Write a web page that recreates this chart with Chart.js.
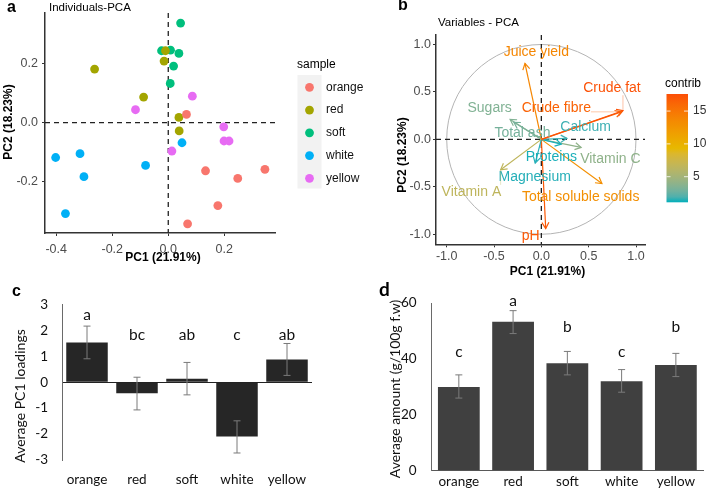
<!DOCTYPE html>
<html>
<head>
<meta charset="utf-8">
<script src="https://cdn.jsdelivr.net/npm/chart.js@4.4.0/dist/chart.umd.min.js"></script>
<style>
  body { margin: 0; background: #fff; width: 706px; height: 499px; position: relative; overflow: hidden; }
  canvas { position: absolute; }
</style>
</head>
<body>
<canvas id="pa" width="380" height="270" style="left:0;top:0"></canvas>
<canvas id="pb" width="356" height="280" style="left:350px;top:0"></canvas>
<canvas id="pc" width="350" height="219" style="left:0;top:280px"></canvas>
<canvas id="pd" width="356" height="219" style="left:350px;top:280px"></canvas>
<script>
// panel a - individuals on PC1 / PC2, one pair of arrays per sample
const samples = ['orange', 'red', 'soft', 'white', 'yellow'];
const sampleColors = ['#F8766D', '#A3A500', '#00BF7D', '#00B0F6', '#E76BF3'];
const orangeX = [0.065, 0.133, 0.248, 0.345, 0.177, 0.069];
const orangeY = [0.028, -0.163, -0.189, -0.158, -0.281, -0.343];
const redX = [-0.263, -0.010, -0.015, -0.088, 0.038, 0.039];
const redY = [0.182, 0.244, 0.209, 0.087, 0.018, -0.028];
const softX = [0.044, -0.024, 0.008, 0.038, 0.019, 0.007];
const softY = [0.338, 0.244, 0.246, 0.235, 0.192, 0.133];
const whiteX = [-0.402, -0.315, -0.301, -0.367, -0.081, 0.049];
const whiteY = [-0.118, -0.105, -0.183, -0.308, -0.145, -0.068];
const yellowX = [-0.117, 0.086, 0.198, 0.199, 0.217, 0.013];
const yellowY = [0.044, 0.090, -0.014, -0.062, -0.062, -0.096];
const indTicksX = [-0.4, -0.2, 0, 0.2];
const indTicksY = [-0.2, 0, 0.2];

// panel b - variables (loadings) and their contribution
const varNames = ['Juice yield', 'Crude fat', 'Crude fibre', 'Sugars', 'Total ash', 'Calcium',
  'Proteins', 'Vitamin C', 'Magnesium', 'Vitamin A', 'Total soluble solids', 'pH'];
const varPC1 = [-0.173, 0.862, 0.845, -0.330, -0.290, 0.270, 0.210, 0.420, -0.065, -0.430, 0.640, 0.046];
const varPC2 = [0.800, 0.302, 0.290, 0.210, 0.180, 0.010, -0.050, -0.085, -0.250, -0.320, -0.465, -0.940];
const varContrib = [13.8, 17.4, 16.4, 3.4, 3.0, 1.6, 1.2, 4.0, 1.3, 6.5, 13.0, 17.0];
const varTicks = [-1, -0.5, 0, 0.5, 1];
const contribTicks = [5, 10, 15];
const contribMin = 1.1, contribMax = 17.6;

// panel c - average PC1 loadings
const pc1Mean = [1.53, -0.43, 0.13, -2.09, 0.87];
const pc1Hi = [2.16, 0.19, 0.76, -1.49, 1.49];
const pc1Lo = [0.90, -1.07, -0.49, -2.73, 0.26];
const pc1Letters = ['a', 'bc', 'ab', 'c', 'ab'];

// panel d - average amount (g/100g f.w)
const amountMean = [30.0, 53.3, 38.5, 32.0, 37.8];
const amountHi = [34.3, 57.3, 42.7, 36.2, 42.0];
const amountLo = [26.0, 49.1, 34.3, 28.1, 33.7];
const amountLetters = ['c', 'a', 'b', 'c', 'b'];

const ggFont = '"Liberation Sans", Arial, sans-serif';
const xlFont = 'Lato, "Open Sans", sans-serif';

// where the repelled labels of panel b sit (data units)
const labelSpots = {
  'Juice yield': [-0.053, 0.919], 'Crude fat': [0.746, 0.539], 'Crude fibre': [0.158, 0.327],
  'Sugars': [-0.546, 0.327], 'Total ash': [-0.20, 0.063], 'Calcium': [0.468, 0.127],
  'Proteins': [0.106, -0.183], 'Vitamin C': [0.729, -0.211], 'Magnesium': [-0.07, -0.394],
  'Vitamin A': [-0.739, -0.553], 'Total soluble solids': [0.415, -0.606], 'pH': [-0.113, -1.018]
};
const linkedLabels = ['Crude fat', 'Crude fibre', 'Vitamin A'];

// colour ramp #00AFBB -> #E7B800 -> #FC4E07, interpolated in CIELAB like ggplot
const gradStops = [[0, 175, 187], [231, 184, 0], [252, 78, 7]];
function toLab(rgb) {
  const lin = rgb.map(v => { v /= 255; return v > 0.04045 ? Math.pow((v + 0.055) / 1.055, 2.4) : v / 12.92; });
  const X = (0.4124 * lin[0] + 0.3576 * lin[1] + 0.1805 * lin[2]) / 0.95047;
  const Y = 0.2126 * lin[0] + 0.7152 * lin[1] + 0.0722 * lin[2];
  const Z = (0.0193 * lin[0] + 0.1192 * lin[1] + 0.9505 * lin[2]) / 1.08883;
  const f = t => t > 0.008856 ? Math.cbrt(t) : 7.787 * t + 16 / 116;
  return [116 * f(Y) - 16, 500 * (f(X) - f(Y)), 200 * (f(Y) - f(Z))];
}
function fromLab(lab) {
  const fy = (lab[0] + 16) / 116, fx = fy + lab[1] / 500, fz = fy - lab[2] / 200;
  const inv = t => t * t * t > 0.008856 ? t * t * t : (t - 16 / 116) / 7.787;
  const X = inv(fx) * 0.95047, Y = inv(fy), Z = inv(fz) * 1.08883;
  const lin = [3.2406 * X - 1.5372 * Y - 0.4986 * Z, -0.9689 * X + 1.8758 * Y + 0.0415 * Z, 0.0557 * X - 0.2040 * Y + 1.0570 * Z];
  return lin.map(v => {
    v = v > 0.0031308 ? 1.055 * Math.pow(v, 1 / 2.4) - 0.055 : 12.92 * v;
    return Math.round(Math.max(0, Math.min(1, v)) * 255);
  });
}
const labStops = gradStops.map(toLab);
function rampAt(t) {
  t = Math.max(0, Math.min(1, t));
  const k = t < 0.5 ? 0 : 1, u = t < 0.5 ? t * 2 : (t - 0.5) * 2;
  const a = labStops[k], b = labStops[k + 1];
  return 'rgb(' + fromLab(a.map((v, i) => v + (b[i] - v) * u)).join(',') + ')';
}
function contribColor(v) { return rampAt((v - contribMin) / (contribMax - contribMin)); }

function txt(ctx, s, x, y, o) {
  ctx.save();
  ctx.font = o.font;
  ctx.fillStyle = o.color || '#000';
  ctx.textAlign = o.align || 'left';
  ctx.textBaseline = 'middle';
  ctx.translate(x, y);
  if (o.rot) ctx.rotate(o.rot);
  ctx.fillText(s, 0, 0);
  ctx.restore();
}
function pinWidth(w) { return s => { s.width = w; }; }
function pinHeight(h) { return s => { s.height = h; }; }
function useTicks(vals) { return s => { s.ticks = vals.map(v => ({ value: v })); }; }

function ggAxis(min, max, vals, pad) {
  return {
    type: 'linear', min: min, max: max,
    afterBuildTicks: useTicks(vals),
    ticks: { font: { family: ggFont, size: 12.5 }, color: '#4d4d4d', padding: pad, callback: v => v.toFixed(1) },
    grid: { display: true, drawOnChartArea: false, tickLength: 3, color: '#333', lineWidth: 1 },
    border: { display: true, color: '#333', width: 1.5 }
  };
}

function dashedZero(chart) {
  const { ctx, chartArea: a, scales: { x, y } } = chart;
  const px = x.getPixelForValue(0), py = y.getPixelForValue(0);
  ctx.save();
  ctx.setLineDash([5, 4]);
  ctx.lineWidth = 1.3;
  ctx.strokeStyle = '#222';
  ctx.beginPath();
  ctx.moveTo(a.left, py); ctx.lineTo(a.right, py);
  ctx.moveTo(px, a.top); ctx.lineTo(px, a.bottom);
  ctx.stroke();
  ctx.restore();
}

const base = {
  responsive: false, animation: false, events: [],
  plugins: { legend: { display: false }, tooltip: { enabled: false } }
};

// ---------- a: Individuals-PCA
const groupX = [orangeX, redX, softX, whiteX, yellowX];
const groupY = [orangeY, redY, softY, whiteY, yellowY];
new Chart(document.getElementById('pa'), {
  type: 'scatter',
  data: {
    datasets: samples.map((s, i) => ({
      label: s,
      data: groupX[i].map((v, j) => ({ x: v, y: groupY[i][j] })),
      backgroundColor: sampleColors[i], borderWidth: 0, pointRadius: 4.4
    }))
  },
  options: {
    ...base,
    layout: { padding: { left: 0, top: 13, right: 105, bottom: 0 } },
    scales: {
      x: { ...ggAxis(-0.44, 0.381, indTicksX, 6), afterFit: pinHeight(37) },
      y: { ...ggAxis(-0.374, 0.372, indTicksY, 4), afterFit: pinWidth(45) }
    }
  },
  plugins: [{
    id: 'panelA',
    beforeDatasetsDraw: dashedZero,
    afterDraw(chart) {
      const ctx = chart.ctx;
      txt(ctx, 'a', 7, 8, { font: 'bold 16px ' + ggFont });
      txt(ctx, 'Individuals-PCA', 49, 8, { font: '11.5px ' + ggFont });
      txt(ctx, 'PC1 (21.91%)', 163, 258, { font: 'bold 12px ' + ggFont, align: 'center' });
      txt(ctx, 'PC2 (18.23%)', 8.5, 122, { font: 'bold 12px ' + ggFont, align: 'center', rot: -Math.PI / 2 });
      // legend
      txt(ctx, 'sample', 297, 65, { font: '12px ' + ggFont });
      ctx.fillStyle = '#F2F2F2';
      ctx.fillRect(297.5, 75, 24, 113.5);
      chart.data.datasets.forEach((d, i) => {
        const yy = 87.3 + i * 22.75;
        ctx.beginPath();
        ctx.arc(309.5, yy, 4.4, 0, Math.PI * 2);
        ctx.fillStyle = d.backgroundColor;
        ctx.fill();
        txt(ctx, d.label, 326, yy, { font: '12px ' + ggFont, color: '#111' });
      });
    }
  }]
});

// ---------- b: Variables - PCA
new Chart(document.getElementById('pb'), {
  type: 'scatter',
  data: {
    datasets: varNames.map((n, i) => ({
      label: n,
      data: [{ x: 0, y: 0 }, { x: varPC1[i], y: varPC2[i] }],
      showLine: true, borderColor: contribColor(varContrib[i]), borderWidth: 1.2, pointRadius: 0
    }))
  },
  options: {
    ...base,
    layout: { padding: { left: 0, top: 35, right: 61, bottom: 0 } },
    scales: {
      x: { ...ggAxis(-1.113, 1.095, varTicks, 2), afterFit: pinHeight(35.7) },
      y: { ...ggAxis(-1.106, 1.1, varTicks, 2), afterFit: pinWidth(86) }
    }
  },
  plugins: [{
    id: 'panelB',
    beforeDatasetsDraw(chart) {
      const { ctx, scales: { x, y } } = chart;
      const cx = x.getPixelForValue(0), cy = y.getPixelForValue(0);
      ctx.save();
      ctx.strokeStyle = '#b4b4b4';
      ctx.lineWidth = 1;
      ctx.beginPath();
      ctx.ellipse(cx, cy, x.getPixelForValue(1) - cx, cy - y.getPixelForValue(1), 0, 0, Math.PI * 2);
      ctx.stroke();
      ctx.restore();
      dashedZero(chart);
    },
    afterDatasetsDraw(chart) {
      const { ctx, scales: { x, y } } = chart;
      const cx = x.getPixelForValue(0), cy = y.getPixelForValue(0);
      ctx.save();
      ctx.font = '14px ' + ggFont;
      varNames.forEach((n, i) => {
        const col = contribColor(varContrib[i]);
        const tx = x.getPixelForValue(varPC1[i]), ty = y.getPixelForValue(varPC2[i]);
        const ang = Math.atan2(ty - cy, tx - cx);
        ctx.strokeStyle = col;
        ctx.lineWidth = 1.2;
        ctx.beginPath();
        ctx.moveTo(tx - 7 * Math.cos(ang - Math.PI / 6), ty - 7 * Math.sin(ang - Math.PI / 6));
        ctx.lineTo(tx, ty);
        ctx.lineTo(tx - 7 * Math.cos(ang + Math.PI / 6), ty - 7 * Math.sin(ang + Math.PI / 6));
        ctx.stroke();
        const spot = labelSpots[n];
        const lx = x.getPixelForValue(spot[0]), ly = y.getPixelForValue(spot[1]);
        if (linkedLabels.includes(n)) {
          const w = ctx.measureText(n).width;
          const ex = Math.max(lx - w / 2, Math.min(lx + w / 2, tx));
          const ey = Math.max(ly - 7, Math.min(ly + 7, ty));
          ctx.globalAlpha = 0.5;
          ctx.lineWidth = 0.7;
          ctx.beginPath(); ctx.moveTo(ex, ey); ctx.lineTo(tx, ty); ctx.stroke();
          ctx.globalAlpha = 1;
        }
        txt(ctx, n, lx, ly, { font: '14px ' + ggFont, color: col, align: 'center' });
      });
      ctx.restore();
    },
    afterDraw(chart) {
      const ctx = chart.ctx;
      txt(ctx, 'b', 48, 6, { font: 'bold 16px ' + ggFont });
      txt(ctx, 'Variables - PCA', 88, 23, { font: '11.5px ' + ggFont });
      txt(ctx, 'PC1 (21.91%)', 197.5, 271.5, { font: 'bold 12px ' + ggFont, align: 'center' });
      txt(ctx, 'PC2 (18.23%)', 53, 155, { font: 'bold 12px ' + ggFont, align: 'center', rot: -Math.PI / 2 });
      // colour bar
      const bx = 316.5, by = 94, bw = 21.5, bh = 108.3;
      const g = ctx.createLinearGradient(0, by + bh, 0, by);
      for (let k = 0; k <= 20; k++) g.addColorStop(k / 20, rampAt(k / 20));
      ctx.fillStyle = g;
      ctx.fillRect(bx, by, bw, bh);
      txt(ctx, 'contrib', 315, 84, { font: '12px ' + ggFont });
      contribTicks.forEach(v => {
        const yy = by + (contribMax - v) / (contribMax - contribMin) * bh;
        ctx.strokeStyle = 'rgba(255,255,255,0.8)';
        ctx.lineWidth = 1;
        ctx.beginPath();
        ctx.moveTo(bx, yy); ctx.lineTo(bx + 4, yy);
        ctx.moveTo(bx + bw - 4, yy); ctx.lineTo(bx + bw, yy);
        ctx.stroke();
        txt(ctx, String(v), 343, yy, { font: '12px ' + ggFont, color: '#333' });
      });
    }
  }]
});

// ---------- c and d: bar charts with error bars
function barPanel(id, values, lo, hi, letters, o) {
  new Chart(document.getElementById(id), {
    type: 'bar',
    data: {
      labels: samples,
      datasets: [{ data: values, backgroundColor: o.color, barPercentage: o.barPct, categoryPercentage: 1 }]
    },
    options: {
      ...base,
      layout: { padding: { left: 0, top: o.top, right: o.right, bottom: 0 } },
      scales: {
        x: {
          grid: { display: false, drawTicks: false },
          border: { display: o.xBorder, color: '#595959', width: 1 },
          ticks: { font: { family: xlFont, size: 13.5 }, color: '#111', padding: o.xPad },
          afterFit: pinHeight(o.xHeight)
        },
        y: {
          min: o.yMin, max: o.yMax,
          ticks: { stepSize: o.step, font: { family: xlFont, size: 13.5 }, color: '#111', padding: o.yPad },
          grid: {
            drawTicks: false,
            color: c => (o.zeroLine && c.tick && c.tick.value === 0) ? '#222' : 'rgba(0,0,0,0)'
          },
          border: { display: true, color: '#6a6a6a', width: 1 },
          afterFit: pinWidth(o.yWidth)
        }
      }
    },
    plugins: [{
      id: id + 'Extras',
      afterDatasetsDraw(chart) {
        const { ctx, scales: { y } } = chart;
        const bars = chart.getDatasetMeta(0).data;
        ctx.save();
        ctx.strokeStyle = '#7a7a7a';
        ctx.lineWidth = 1;
        bars.forEach((b, i) => {
          const y1 = y.getPixelForValue(hi[i]), y2 = y.getPixelForValue(lo[i]);
          ctx.beginPath();
          ctx.moveTo(b.x, y1); ctx.lineTo(b.x, y2);
          ctx.moveTo(b.x - 3.5, y1); ctx.lineTo(b.x + 3.5, y1);
          ctx.moveTo(b.x - 3.5, y2); ctx.lineTo(b.x + 3.5, y2);
          ctx.stroke();
          txt(ctx, letters[i], b.x, y.getPixelForValue(o.letterLevels[i]), { font: '15.5px ' + xlFont, align: 'center', color: '#111' });
        });
        ctx.restore();
      },
      afterDraw(chart) {
        const ctx = chart.ctx;
        txt(ctx, o.panel, o.panelPos[0], o.panelPos[1], { font: o.panelFont });
        txt(ctx, o.yTitle, o.yTitlePos[0], o.yTitlePos[1], { font: '14px ' + xlFont, align: 'center', color: '#111', rot: -Math.PI / 2 });
      }
    }]
  });
}

barPanel('pc', pc1Mean, pc1Lo, pc1Hi, pc1Letters, {
  color: '#262626', barPct: 0.83, yMin: -3, yMax: 3, step: 1,
  top: 24.3, right: 38, yWidth: 62, xHeight: 39, xPad: 11.5, yPad: 14,
  zeroLine: true, xBorder: false,
  letterLevels: [2.58, 1.81, 1.81, 1.81, 1.81],
  panel: 'c', panelPos: [12, 11.7], panelFont: 'bold 16px ' + ggFont,
  yTitle: 'Average PC1 loadings', yTitlePos: [20, 116]
});

barPanel('pd', amountMean, amountLo, amountHi, amountLetters, {
  color: '#404040', barPct: 0.77, yMin: 0, yMax: 60, step: 20,
  top: 19.3, right: 3, yWidth: 81.7, xHeight: 28.3, xPad: 2.6, yPad: 15,
  zeroLine: false, xBorder: true,
  letterLevels: [42.6, 60.8, 51.4, 42.6, 51.4],
  panel: 'd', panelPos: [29, 10], panelFont: 'bold 19px ' + xlFont,
  yTitle: 'Average amount (g/100g f.w)', yTitlePos: [45, 109]
});
</script>
</body>
</html>
